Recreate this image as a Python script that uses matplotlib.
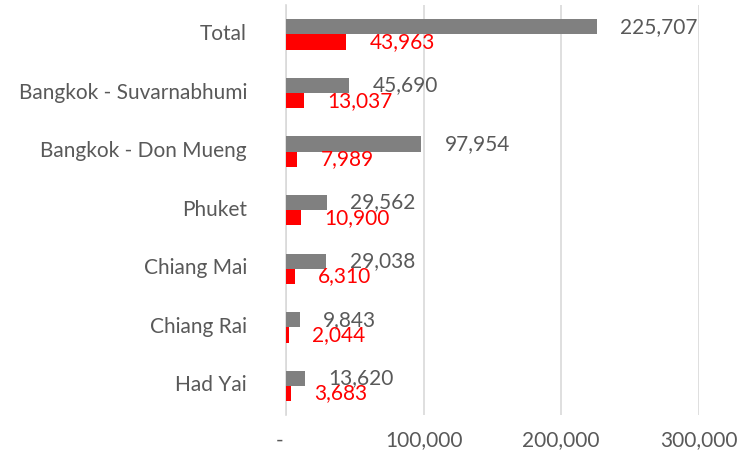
import matplotlib

matplotlib.use("Agg")
import matplotlib.pyplot as plt
import matplotlib.transforms as mtransforms
import numpy as np
from matplotlib.ticker import FuncFormatter

# Airports, top to bottom as shown
categories = [
    "Total",
    "Bangkok - Suvarnabhumi",
    "Bangkok - Don Mueng",
    "Phuket",
    "Chiang Mai",
    "Chiang Rai",
    "Had Yai",
]
gray_values = [225707, 45690, 97954, 29562, 29038, 9843, 13620]
red_values = [43963, 13037, 7989, 10900, 6310, 2044, 3683]
x_ticks = [0, 100000, 200000, 300000]

GRAY = "#808080"
RED = "#FF0000"
TEXT = "#595959"
FS = 15

plt.rcParams["font.family"] = ["Lato", "DejaVu Sans"]


def accounting(v, _pos=None):
    # Excel accounting style: zero shows as a dash
    return "-" if v == 0 else f"{v:,.0f}"


fig = plt.figure(figsize=(7.38, 4.66), dpi=100)
ax = fig.add_axes([0.3875, 0.109, 0.5595, 0.88])

y = np.arange(len(categories))
bar_h = 0.26
ax.barh(y - bar_h / 2, gray_values, height=bar_h, color=GRAY, zorder=3)
ax.barh(y + bar_h / 2, red_values, height=bar_h, color=RED, zorder=3)

for yi, v in zip(y, gray_values):
    ax.annotate(accounting(v), (v, yi - bar_h / 2), xytext=(17, 0),
                textcoords="offset points", va="center", ha="left",
                fontsize=FS, color=TEXT, zorder=4)
for yi, v in zip(y, red_values):
    ax.annotate(accounting(v), (v, yi + bar_h / 2), xytext=(17, 0),
                textcoords="offset points", va="center", ha="left",
                fontsize=FS, color=RED, zorder=4)

ax.set_ylim(len(categories) - 0.5, -0.5)
ax.set_yticks(y)
ax.set_yticklabels(categories, fontsize=FS, color=TEXT)
ax.set_xlim(0, 300000)
ax.set_xticks(x_ticks)
ax.xaxis.set_major_formatter(FuncFormatter(accounting))
ax.tick_params(axis="x", length=0, pad=11, labelsize=FS, labelcolor=TEXT)
ax.tick_params(axis="y", length=0, pad=28)

# nudge category labels up a little, and the zero dash to the left
up = mtransforms.ScaledTranslation(0, 2.5 / 100, fig.dpi_scale_trans)
for lbl in ax.get_yticklabels():
    lbl.set_transform(lbl.get_transform() + up)
left = mtransforms.ScaledTranslation(-6.5 / 100, 0, fig.dpi_scale_trans)
dash = ax.get_xticklabels()[0]
dash.set_transform(dash.get_transform() + left)

ax.grid(axis="x", color="#D9D9D9", linewidth=1.2, zorder=0)
for side in ["top", "right", "bottom"]:
    ax.spines[side].set_visible(False)
ax.spines["left"].set_color("#D9D9D9")
ax.spines["left"].set_linewidth(1.2)

fig.savefig("out.png", dpi=100)
